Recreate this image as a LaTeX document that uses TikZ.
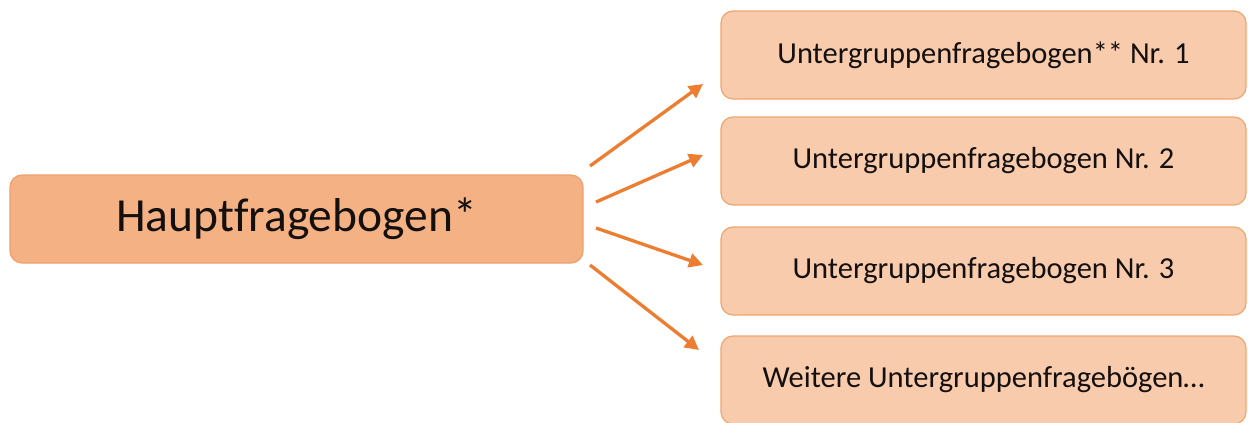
\documentclass[tikz,border=0pt]{standalone}
\usepackage{fontspec}
\setmainfont{Carlito}[Ligatures=NoCommon]
\usetikzlibrary{arrows.meta}
\definecolor{mainfill}{HTML}{F4B183}
\definecolor{mainborder}{HTML}{EFA06C}
\definecolor{subfill}{HTML}{F8CBAD}
\definecolor{subborder}{HTML}{F0A56E}
\definecolor{arrowcol}{HTML}{ED7D31}
\definecolor{txt}{HTML}{151010}
\tikzset{
  mainbox/.style={draw=mainborder, line width=1.2pt, fill=mainfill, rounded corners=12pt,
    minimum width=573pt, minimum height=88pt, inner sep=0pt, text=txt,
    font=\fontsize{47.5}{50}\selectfont},
  subbox/.style={draw=subborder, line width=1.2pt, fill=subfill, rounded corners=12pt,
    minimum width=525pt, minimum height=88pt, inner sep=0pt, text=txt,
    font=\fontsize{30.5}{33}\selectfont},
  conn/.style={draw=arrowcol, line width=3.3pt, -{Triangle[length=14pt,width=14pt]}}
}
\begin{document}
\begin{tikzpicture}[x=1pt,y=-1pt]
\useasboundingbox (0,0) rectangle (1248,423);
\node[mainbox] (main) at (296.5,219) {Hauptfragebogen*};
\node[subbox] (s1) at (983.5,55) {Untergruppenfragebogen** Nr. 1};
\node[subbox] (s2) at (983.5,161) {Untergruppenfragebogen Nr. 2};
\node[subbox] (s3) at (983.5,271) {Untergruppenfragebogen Nr. 3};
\node[subbox] (s4) at (983.5,380) {Weitere Untergruppenfragebögen…};
\coordinate (a1s) at (590,166); \coordinate (a1e) at (703,84);
\coordinate (a2s) at (596,202); \coordinate (a2e) at (703,155);
\coordinate (a3s) at (596,228); \coordinate (a3e) at (703,265);
\coordinate (a4s) at (590,265); \coordinate (a4e) at (699,350);
\draw[conn] (a1s) -- (a1e);
\draw[conn] (a2s) -- (a2e);
\draw[conn] (a3s) -- (a3e);
\draw[conn] (a4s) -- (a4e);
\end{tikzpicture}
\end{document}
